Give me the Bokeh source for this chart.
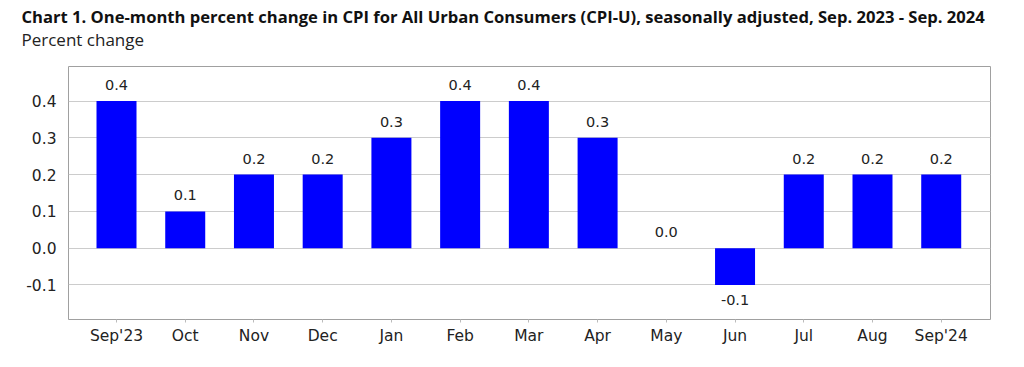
from bokeh.plotting import figure
from bokeh.models import ColumnDataSource, Range1d, FixedTicker, Title
from bokeh.core.properties import value
from bokeh.embed import file_html
from bokeh.resources import INLINE

months = ["Sep'23", "Oct", "Nov", "Dec", "Jan", "Feb", "Mar", "Apr", "May", "Jun", "Jul", "Aug", "Sep'24"]
changes = [0.4, 0.1, 0.2, 0.2, 0.3, 0.4, 0.4, 0.3, 0.0, -0.1, 0.2, 0.2, 0.2]
y_ticks = [-0.1, 0.0, 0.1, 0.2, 0.3, 0.4]
title_text = "Chart 1. One-month percent change in CPI for All Urban Consumers (CPI-U), seasonally adjusted, Sep. 2023 - Sep. 2024"
subtitle_text = "Percent change"

xs = list(range(len(months)))
src = ColumnDataSource(dict(
    x=xs,
    top=changes,
    label=[f"{v:.1f}" for v in changes],
    off=[-16 if v >= 0 else 15 for v in changes],
))

p = figure(width=1024, height=367, output_backend="svg", toolbar_location=None,
           x_range=Range1d(-0.6985, len(months) - 1 + 0.717), y_range=Range1d(-0.194, 0.494),
           min_border_left=68, min_border_right=34, min_border_bottom=48, min_border_top=66)

p.vbar(x="x", top="top", bottom=0, width=0.582, source=src, fill_color="#0000ff", line_color=None)
p.text(x="x", y="top", text="label", y_offset="off", source=src, text_align="center",
       text_baseline="middle", text_font=value("DejaVu Sans"), text_font_size="14.5px", text_color="#222222")

p.outline_line_color = "#a0a0a0"
p.outline_line_width = 1
p.background_fill_color = "white"
p.border_fill_color = "white"

p.xgrid.grid_line_color = None
p.ygrid.grid_line_color = "#cccccc"
p.ygrid.grid_line_width = 1.2
p.yaxis.ticker = FixedTicker(ticks=y_ticks)
p.xaxis.ticker = FixedTicker(ticks=xs)
p.xaxis.major_label_overrides = {i: m for i, m in enumerate(months)}
p.yaxis.major_label_overrides = {t: f"{t:.1f}" for t in y_ticks}

for ax in (p.xaxis, p.yaxis):
    ax.axis_line_color = None
    ax.minor_tick_line_color = None
    ax.major_label_text_font = "DejaVu Sans"
    ax.major_label_text_font_size = "15.5px"
    ax.major_label_text_color = "#222222"
p.yaxis.major_tick_line_color = None
p.yaxis.major_label_standoff = 6
p.xaxis.major_tick_line_color = "#bbbbbb"
p.xaxis.major_tick_out = 3
p.xaxis.major_tick_in = 0
p.xaxis.major_label_standoff = 4

p.title = None
# spacer between frame and subtitle
p.add_layout(Title(text=" ", text_font_size="2px", standoff=12, text_color="white"), "above")
p.add_layout(Title(text=subtitle_text, align="left", offset=-47, text_font="Open Sans",
                   text_font_size="17px", text_font_style="normal", text_color="#222222",
                   standoff=0), "above")
p.add_layout(Title(text=title_text, align="left", offset=-47, text_font="Open Sans",
                   text_font_size="16.6px", text_font_style="bold", text_color="#111111",
                   standoff=-4), "above")

open("out.html", "w").write(file_html(p, INLINE))
